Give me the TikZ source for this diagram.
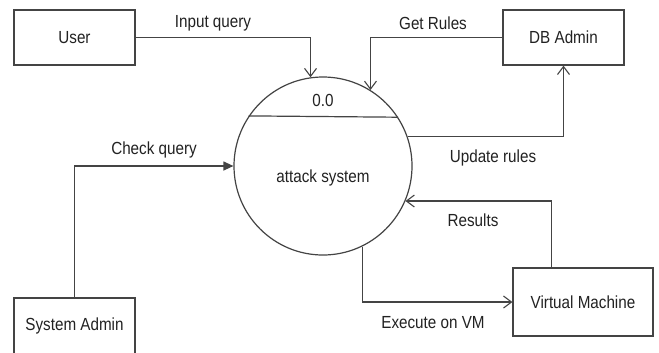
\documentclass[tikz,border=0pt]{standalone}
\usepackage{fontspec}
\setmainfont[FakeStretch=0.87]{Liberation Sans}
\usetikzlibrary{arrows.meta,calc}
\definecolor{linegray}{HTML}{444444}
\definecolor{textgray}{HTML}{222222}
\tikzset{
  entity/.style={draw=linegray, line width=1.2bp, inner sep=0pt, text=textgray,
    font=\fontsize{17.5bp}{20bp}\selectfont},
  flow/.style={draw=linegray, line width=1.2bp, -{Straight Barb[length=8bp,width=12bp,line width=1.1bp]}},
  flowfill/.style={draw=linegray, line width=1.2bp, -{Triangle[length=10bp,width=9bp]}},
  lbl/.style={text=textgray, inner sep=0pt, font=\fontsize{17.5bp}{20bp}\selectfont}
}
\begin{document}
\begin{tikzpicture}[x=1bp,y=-1bp]
  \useasboundingbox (0,0) rectangle (659,352);
  \fill[white] (0,0) rectangle (659,352);

  % external entities
  \node[entity, minimum width=121bp, minimum height=55bp] (user) at (74.5,37.5) {User};
  \node[entity, minimum width=121bp, minimum height=55bp] (db) at (563.5,37.5) {DB Admin};
  \node[entity, minimum width=121bp, minimum height=56bp] (sys) at (74.5,326) {System Admin};
  \node[entity, minimum width=140bp, minimum height=68bp] (vm) at (583,302) {Virtual Machine};

  % process bubble
  \node[circle, draw=linegray, line width=1.2bp, minimum size=178bp, inner sep=0pt] (proc) at (323,166) {};
  \draw[linegray, line width=1.2bp] (proc.146.6) -- (proc.33.4);
  \node[lbl] (pid) at (323,100) {0.0};
  \node[lbl] (pname) at (323,178) {attack system};

  \coordinate (vmtop) at ($(vm.north west)+(39,0)$);

  % data flows
  \draw[flow] (user.east) -| (proc.98.4);
  \draw[flow] (db.west) -| (proc.58.9);
  \draw[flow] (proc.19.7) -| (db.south);
  \draw[flowfill] (sys.north) |- (proc.west);
  \draw[flow] (vmtop) |- (proc.-23.2);
  \draw[flow] (proc.-64) |- (vm.west);

  % flow labels
  \node[lbl] (l1) at (213,23) {Input query};
  \node[lbl] (l2) at (433,23) {Get Rules};
  \node[lbl] (l3) at (493,158) {Update rules};
  \node[lbl] (l4) at (154,150) {Check query};
  \node[lbl] (l5) at (473,220) {Results};
  \node[lbl] (l6) at (433,323) {Execute on VM};
\end{tikzpicture}
\end{document}
